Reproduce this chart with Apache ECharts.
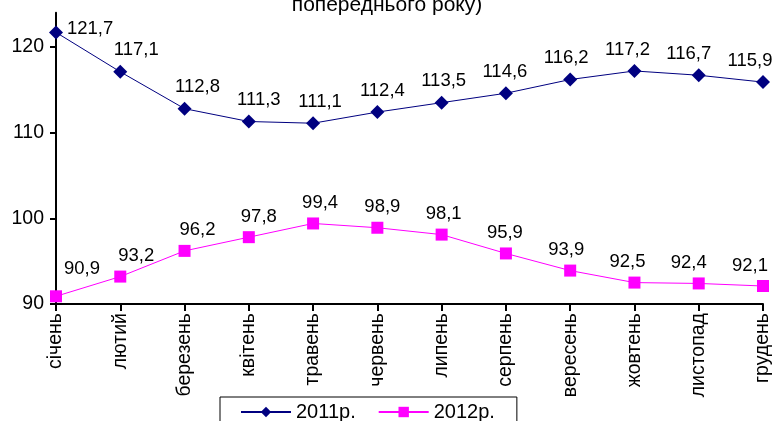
<!DOCTYPE html>
<html>
<head>
<meta charset="utf-8">
<script src="https://cdn.jsdelivr.net/npm/echarts@6/dist/echarts.min.js"></script>
<style>
html,body{margin:0;padding:0;background:#fff;}
#c{width:774px;height:421px;}
</style>
</head>
<body>
<div id="c"></div>
<script>
const months = ['січень','лютий','березень','квітень','травень','червень','липень','серпень','вересень','жовтень','листопад','грудень'];
const values2011 = [121.7,117.1,112.8,111.3,111.1,112.4,113.5,114.6,116.2,117.2,116.7,115.9];
const values2012 = [90.9,93.2,96.2,97.8,99.4,98.9,98.1,95.9,93.9,92.5,92.4,92.1];
const yTicks = [90,100,110,120];
const seriesNames = ['2011р.','2012р.'];
const titleText = 'попереднього року)';

const FONT = 'Liberation Sans, Arial, sans-serif';
const fmt = v => String(v).replace('.', ',');

function build(vals, first){
  return vals.map((v,i)=>{
    const lbl = {offset:[Math.round(19 - 2.9*i), -1]};
    if (i===0 && first) { lbl.position='right'; lbl.offset=[0,-3]; }
    if (i===0 && !first) { lbl.offset=[26,-8]; }
    return {value:v, label:lbl};
  });
}

const chart = echarts.init(document.getElementById('c'), null, {renderer:'canvas'});
chart.setOption({
  animation:false,
  backgroundColor:'#fff',
  title:{text:titleText, left:'center', top:-10, textStyle:{fontFamily:FONT, fontSize:21, fontWeight:'normal', color:'#000'}},
  grid:{left:56, right:11, top:12.7, bottom:117, containLabel:false},
  legend:{
    left:220, top:397,
    data:seriesNames,
    itemWidth:50, itemHeight:13, itemGap:22,
    padding:[5,22,20,20],
    borderColor:'#000', borderWidth:1,
    textStyle:{fontFamily:FONT, fontSize:20, color:'#000', padding:[0,0,0,0]}
  },
  xAxis:{
    type:'category', data:months, boundaryGap:false,
    axisLine:{lineStyle:{color:'#000', width:2}},
    axisTick:{show:true, alignWithLabel:true, length:7, inside:false, lineStyle:{color:'#000', width:2}},
    axisLabel:{rotate:90, margin:9, fontFamily:FONT, fontSize:19.5, color:'#000', interval:0},
    splitLine:{show:false}
  },
  yAxis:{
    type:'value', min:90, max:124, interval:10,
    axisLine:{show:true, lineStyle:{color:'#000', width:2}},
    axisTick:{show:true, length:6, customValues:yTicks, lineStyle:{color:'#000', width:2}},
    axisLabel:{margin:12, customValues:yTicks, fontFamily:FONT, fontSize:19.5, color:'#000'},
    splitLine:{show:false}
  },
  series:[
    {
      name:seriesNames[0], type:'line', data:build(values2011,true),
      symbol:'diamond', symbolSize:14,
      lineStyle:{color:'#000080', width:1},
      itemStyle:{color:'#000080'},
      label:{show:true, position:'top', distance:4, formatter:p=>fmt(p.value), fontFamily:FONT, fontSize:18.5, color:'#000'}
    },
    {
      name:seriesNames[1], type:'line', data:build(values2012,false),
      symbol:'rect', symbolSize:12,
      lineStyle:{color:'#FF00FF', width:1},
      itemStyle:{color:'#FF00FF'},
      label:{show:true, position:'top', distance:4, formatter:p=>fmt(p.value), fontFamily:FONT, fontSize:18.5, color:'#000'}
    }
  ]
});
</script>
</body>
</html>
